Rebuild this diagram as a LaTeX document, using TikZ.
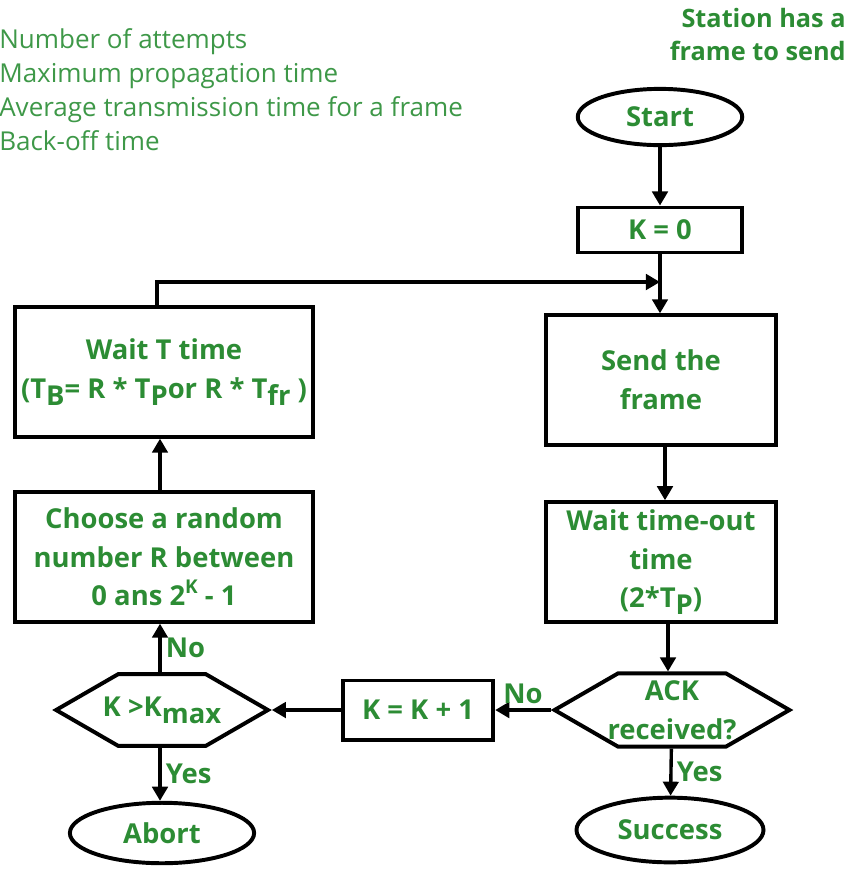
\documentclass[tikz,border=0pt]{standalone}
\usepackage{fontspec}
\setmainfont{Open Sans}
\usetikzlibrary{arrows.meta,shapes.geometric,shapes.symbols}

\definecolor{gfg}{RGB}{44,140,52}
\definecolor{gfglight}{RGB}{62,152,72}

% lowered index and raised power, in text
\newcommand{\lowidx}[1]{\raisebox{-0.45ex}{#1}}
\newcommand{\highidx}[1]{\raisebox{0.8ex}{\fontsize{13.5}{13.5}\selectfont #1}}

\begin{document}
\begin{tikzpicture}[x=0.025cm, y=-0.025cm, >={Triangle[length=10pt,width=11pt]},
  font=\bfseries\fontsize{19.5}{27.5}\selectfont,
  box/.style={draw, line width=2.8pt, text=gfg, align=center, inner sep=2pt},
  term/.style={box, ellipse},
  hexa/.style={box, signal, signal to=east and west, signal pointer angle=60,
    inner ysep=0pt},
  flow/.style={->, line width=2.4pt},
  lbl/.style={text=gfg, inner sep=3pt}]

  \useasboundingbox (0,0) rectangle (850,871);

  % legend of the symbols, top left
  \node[anchor=north west, align=left, text=gfglight, inner sep=0pt,
    font=\fontsize{18.5}{24.2}\selectfont] (legend) at (-1,28)
    {Number of attempts\\Maximum propagation time\\
     Average transmission time for a frame\\Back-off time};
  \node[anchor=north east, align=right, text=gfg, inner sep=0pt,
    font=\bfseries\fontsize{18}{23.5}\selectfont] (station) at (846,8)
    {Station has a\\frame to send};

  % right column
  \node[term, minimum width=117pt, minimum height=40pt] (start) at (660,117) {Start};
  \node[box, minimum width=116pt, minimum height=32pt] (kzero) at (660,230) {K = 0};
  \node[box, minimum width=164pt, minimum height=92pt] (send) at (661,380)
    {Send the\\frame};
  \node[box, minimum width=164pt, minimum height=85pt] (timeout) at (661,562)
    {Wait time-out\\time\\(2*T\lowidx{P})};
  \node[hexa, minimum width=167pt, minimum height=52pt, inner xsep=-9pt] (ack)
    at (672,710) {ACK\\received?};
  \node[term, minimum width=133pt, minimum height=46pt] (success) at (670,830)
    {Success};

  % middle and left column
  \node[box, minimum width=107pt, minimum height=42pt] (kinc) at (418,710)
    {K = K + 1};
  \node[hexa, minimum width=144pt, minimum height=51pt, inner xsep=-11pt] (kmax)
    at (162,710) {K >K\lowidx{max}};
  \node[term, minimum width=131pt, minimum height=43pt] (abort) at (162,833)
    {Abort};
  \node[box, minimum width=212pt, minimum height=92pt] (choose) at (164,557)
    {Choose a random\\number R between\\0 ans 2\highidx{K} - 1};
  \node[box, minimum width=212pt, minimum height=92pt] (waitt) at (164,372)
    {Wait T time\\(T\lowidx{B}= R * T\lowidx{P}or R * T\lowidx{fr} )};

  \coordinate (join) at (660,282);

  % connectors
  \draw[flow] (start) -- (kzero);
  \draw[line width=2.4pt] (kzero) -- (join);
  \draw[flow] (join) -- (join |- send.north);
  \draw[flow] (waitt.north -| 157,0) |- (join);
  \draw[flow] (send.south -| 665,0) -- (timeout.north -| 665,0);
  \draw[flow] (timeout.south -| 668,0) -- (ack.north -| 668,0);
  \draw[flow] (ack) -- node[lbl, right] {Yes} (success);
  \draw[flow] (ack.west) -- node[lbl, above] {No} (kinc.east);
  \draw[flow] (kinc) -- (kmax.east);
  \draw[flow] (kmax.north -| 160,0) -- node[lbl, right] {No} (choose.south -| 160,0);
  \draw[flow] (kmax.south -| 160,0) -- node[lbl, right] {Yes} (abort.north -| 160,0);
  \draw[flow] (choose.north -| 160,0) -- (waitt.south -| 160,0);

\end{tikzpicture}
\end{document}
